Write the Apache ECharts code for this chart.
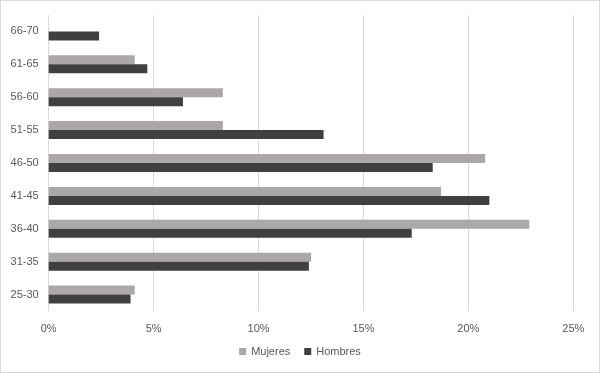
<!DOCTYPE html>
<html>
<head>
<meta charset="utf-8">
<script src="https://cdn.jsdelivr.net/npm/echarts@6/dist/echarts.min.js"></script>
<style>
  html, body { margin: 0; padding: 0; background: #fff; }
  #chart { width: 600px; height: 373px; box-sizing: border-box; border: 1px solid #d9d9d9; }
</style>
</head>
<body>
<div id="chart"></div>
<script>
var ageGroups = ['25-30', '31-35', '36-40', '41-45', '46-50', '51-55', '56-60', '61-65', '66-70'];
var mujeres = [4.1, 12.5, 22.9, 18.7, 20.8, 8.3, 8.3, 4.1, 0];
var hombres = [3.9, 12.4, 17.3, 21.0, 18.3, 13.1, 6.4, 4.7, 2.4];
var xTicks = [0, 5, 10, 15, 20, 25];

var chart = echarts.init(document.getElementById('chart'));

var textStyle = { color: '#595959', fontFamily: 'Liberation Sans', fontSize: 11 };

var option = {
    animation: false,
    textStyle: textStyle,
    grid: { left: 47.7, right: 25.7, top: 14, bottom: 61 },
    legend: {
        bottom: 10,
        left: 'center',
        icon: 'rect',
        itemWidth: 7,
        itemHeight: 7,
        itemGap: 14,
        itemStyle: { borderWidth: 0 },
        textStyle: textStyle,
        data: ['Mujeres', 'Hombres']
    },
    xAxis: {
        type: 'value',
        min: xTicks[0],
        max: xTicks[xTicks.length - 1],
        interval: 5,
        axisLine: { show: false },
        axisTick: { show: false },
        splitLine: { lineStyle: { color: '#d9d9d9', width: 1 } },
        axisLabel: { formatter: '{value}%', color: '#595959', fontSize: 11, margin: 12 }
    },
    yAxis: {
        type: 'category',
        data: ageGroups,
        axisLine: { show: false },
        axisTick: { show: false },
        axisLabel: { color: '#595959', fontSize: 11, margin: 10 }
    },
    series: [
        {
            name: 'Mujeres',
            type: 'bar',
            data: mujeres,
            barWidth: 9,
            barGap: '0%',
            itemStyle: { color: '#aba8a7' }
        },
        {
            name: 'Hombres',
            type: 'bar',
            data: hombres,
            barWidth: 9,
            barGap: '0%',
            itemStyle: { color: '#404040' }
        }
    ]
};
chart.setOption(option);
</script>
</body>
</html>
